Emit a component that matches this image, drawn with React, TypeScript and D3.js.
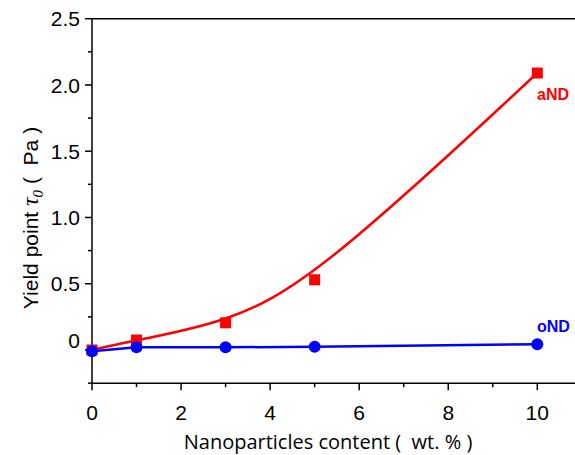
import React from "react";
import * as d3 from "d3";

const contents = [0, 1, 3, 5, 10];
const andValues = [0.0, 0.075, 0.205, 0.53, 2.09];
const ondValues = [-0.01, 0.02, 0.02, 0.025, 0.043];
const xTickValues = [0, 2, 4, 6, 8, 10];
const xMinorValues = [1, 3, 5, 7, 9];
const yTickValues = [0, 0.5, 1.0, 1.5, 2.0, 2.5];
const yTickLabels = ["0", "0.5", "1.0", "1.5", "2.0", "2.5"];
const yMinorValues = [-0.25, 0.25, 0.75, 1.25, 1.75, 2.25];

const W = 575;
const H = 455;

export default function App() {
  const x = d3.scaleLinear().domain([0, 10]).range([92, 537.3]);
  const y = d3.scaleLinear().domain([0, 2.5]).range([350, 18.7]);
  const yBottom = y(-0.25);
  const xRight = W;

  const andPts: [number, number][] = contents.map((c, i) => [x(c), y(andValues[i])]);
  const ondPts: [number, number][] = contents.map((c, i) => [x(c), y(ondValues[i])]);
  const redPath = d3.line().curve(d3.curveBasis)(andPts) || "";
  const bluePath = d3.line()(ondPts) || "";

  const tickFont = "'Liberation Sans', Arial, sans-serif";
  const red = "#ff0000";
  const blue = "#0000ff";

  return (
    <svg
      width={W}
      height={H}
      style={{ position: "absolute", left: 0, top: 0, background: "#fff" }}
    >
      {/* frame lines */}
      <line x1={x(0)} y1={y(2.5)} x2={xRight} y2={y(2.5)} stroke="#000" strokeWidth={1.5} />
      <line x1={x(0)} y1={yBottom} x2={xRight} y2={yBottom} stroke="#000" strokeWidth={1.5} />
      <line x1={x(0)} y1={y(2.5)} x2={x(0)} y2={yBottom} stroke="#000" strokeWidth={1.5} />

      {/* y ticks */}
      {yTickValues.map((v, i) => (
        <g key={"yt" + i}>
          <line x1={x(0) - 7} x2={x(0)} y1={y(v)} y2={y(v)} stroke="#000" strokeWidth={1.5} />
          <text
            x={80}
            y={y(v) + (v === 0 ? -10 : 0)}
            dy="0.36em"
            textAnchor="end"
            fontFamily={tickFont}
            fontSize={21}
            fill="#000"
          >
            {yTickLabels[i]}
          </text>
        </g>
      ))}
      {yMinorValues.map((v, i) => (
        <line key={"ym" + i} x1={x(0) - 4} x2={x(0)} y1={y(v)} y2={y(v)} stroke="#000" strokeWidth={1.5} />
      ))}

      {/* x ticks */}
      {xTickValues.map((v, i) => (
        <g key={"xt" + i}>
          <line x1={x(v)} x2={x(v)} y1={yBottom} y2={yBottom + 7} stroke="#000" strokeWidth={1.5} />
          <text
            x={x(v)}
            y={420}
            textAnchor="middle"
            fontFamily={tickFont}
            fontSize={21}
            fill="#000"
          >
            {v}
          </text>
        </g>
      ))}
      {xMinorValues.map((v, i) => (
        <line key={"xm" + i} x1={x(v)} x2={x(v)} y1={yBottom} y2={yBottom + 4} stroke="#000" strokeWidth={1.5} />
      ))}

      {/* axis titles */}
      <text
        x={328}
        y={449}
        textAnchor="middle"
        fontFamily="'Open Sans', 'Noto Sans', sans-serif"
        fontSize={20}
        fill="#000"
      >
        {"Nanoparticles content (\u00a0\u00a0wt. % )"}
      </text>
      <text
        transform={`translate(38, 218) rotate(-90)`}
        textAnchor="middle"
        fontFamily={tickFont}
        fontSize={21}
        fill="#000"
      >
        Yield point{" "}
        <tspan fontFamily="'Liberation Serif', 'Times New Roman', serif" fontStyle="italic" fontSize={24}>
          τ
        </tspan>
        <tspan fontFamily="'Liberation Serif', 'Times New Roman', serif" fontStyle="italic" fontSize={15} dy={5}>
          0
        </tspan>
        <tspan dy={-5}>{"\u00a0(\u00a0\u00a0Pa )"}</tspan>
      </text>

      {/* lines */}
      <path d={redPath} fill="none" stroke={red} strokeWidth={2.5} />
      <path d={bluePath} fill="none" stroke={blue} strokeWidth={2.5} />

      {/* markers */}
      {andPts.map((p, i) => (
        <rect key={"sq" + i} x={p[0] - 5.5} y={p[1] - 5.5} width={11} height={11} fill={red} />
      ))}
      {ondPts.map((p, i) => (
        <circle key={"ci" + i} cx={p[0]} cy={p[1]} r={6} fill={blue} />
      ))}

      {/* series labels */}
      <text x={537} y={100} fontFamily={tickFont} fontWeight="bold" fontSize={16} fill={red}>
        aND
      </text>
      <text x={537} y={332} fontFamily={tickFont} fontWeight="bold" fontSize={16} fill={blue}>
        oND
      </text>
    </svg>
  );
}
